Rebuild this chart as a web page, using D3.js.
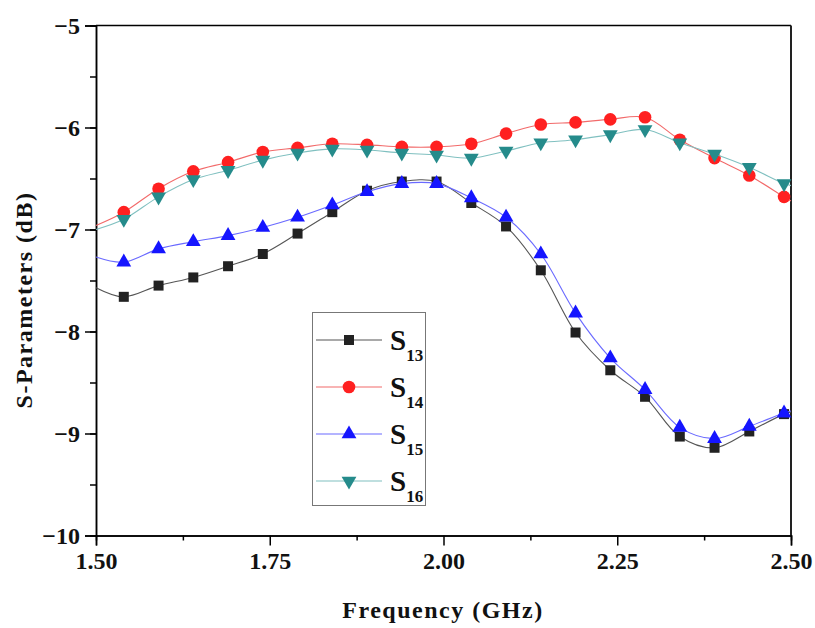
<!DOCTYPE html>
<html>
<head>
<meta charset="utf-8">
<script src="https://cdn.jsdelivr.net/npm/d3@7/dist/d3.min.js"></script>
<style>
  html, body { margin: 0; padding: 0; background: #fff; }
  svg { display: block; }
  text { font-family: "Liberation Serif", "Times New Roman", serif; font-weight: bold; }
</style>
</head>
<body>
<svg id="chart" width="815" height="628"></svg>
<script>
// ---- data ----
// first and last entries are the curve endpoints (no marker)
const freq = [1.50, 1.54, 1.59, 1.64, 1.69, 1.74, 1.79, 1.84, 1.89, 1.94, 1.99,
              2.04, 2.09, 2.14, 2.19, 2.24, 2.29, 2.34, 2.39, 2.44, 2.49, 2.50];
const s13 = [-7.57, -7.66, -7.55, -7.47, -7.36, -7.24, -7.04, -6.83, -6.62, -6.53, -6.53,
             -6.74, -6.97, -7.40, -8.01, -8.38, -8.64, -9.03, -9.14, -8.98, -8.81, -8.79];
const s14 = [-6.96, -6.83, -6.60, -6.43, -6.34, -6.24, -6.20, -6.16, -6.17, -6.19, -6.19,
             -6.16, -6.06, -5.97, -5.95, -5.92, -5.90, -6.12, -6.30, -6.47, -6.68, -6.72];
const s15 = [-7.27, -7.32, -7.19, -7.12, -7.06, -6.98, -6.88, -6.76, -6.63, -6.55, -6.55,
             -6.69, -6.88, -7.24, -7.82, -8.26, -8.57, -8.94, -9.05, -8.93, -8.80, -8.78];
const s16 = [-7.00, -6.90, -6.68, -6.51, -6.42, -6.32, -6.25, -6.21, -6.22, -6.25, -6.27,
             -6.30, -6.23, -6.15, -6.12, -6.07, -6.02, -6.15, -6.26, -6.39, -6.55, -6.57];
const seriesNames = ["13", "14", "15", "16"];
const xTicks = [1.50, 1.75, 2.00, 2.25, 2.50];
const yTicks = [-5, -6, -7, -8, -9, -10];

// ---- layout ----
const svg = d3.select("#chart");
const L = 96, R = 791, T = 25.5, B = 535.5;
const x = d3.scaleLinear().domain([1.5, 2.5]).range([L, R]);
const y = d3.scaleLinear().domain([-10, -5]).range([B, T]);

const styles = [
  { line: "#555555", fill: "#222222", sym: d3.symbolSquare, size: 100, rot: 0 },
  { line: "#f26a6a", fill: "#ff2020", sym: d3.symbolCircle, size: 125, rot: 0 },
  { line: "#6a6aff", fill: "#1515ff", sym: d3.symbolTriangle, size: 95, rot: 0 },
  { line: "#80c0c0", fill: "#258b8b", sym: d3.symbolTriangle, size: 95, rot: 180 }
];
const allSeries = [s13, s14, s15, s16];

// frame
svg.append("line").attr("x1", L).attr("x2", R).attr("y1", T).attr("y2", T)
  .attr("stroke", "#000").attr("stroke-width", 1.5);
svg.append("line").attr("x1", R).attr("x2", R).attr("y1", T).attr("y2", B)
  .attr("stroke", "#222").attr("stroke-width", 2);

// axes
const xAxis = d3.axisBottom(x).tickValues(xTicks).tickFormat(d3.format(".2f"))
  .tickSize(10).tickPadding(6);
const xMinor = d3.axisBottom(x).tickValues(d3.range(1.625, 2.5, 0.25)).tickFormat("").tickSize(5);
const yAxis = d3.axisLeft(y).tickValues(yTicks).tickFormat(d3.format("d"))
  .tickSize(11).tickPadding(5);
const yMinor = d3.axisLeft(y).tickValues(d3.range(-9.5, -5, 0.5)).tickFormat("").tickSize(6);

function styleAxis(g) {
  g.select(".domain").attr("stroke", "#000").attr("stroke-width", 1.5);
  g.selectAll(".tick line").attr("stroke", "#000").attr("stroke-width", 1.5);
  g.selectAll(".tick text").attr("fill", "#111").style("font-size", "24px")
    .style("font-family", "'Liberation Serif', serif").style("font-weight", "bold");
}
svg.append("g").attr("transform", `translate(0,${B})`).call(xMinor).call(styleAxis);
svg.append("g").attr("transform", `translate(0,${B})`).call(xAxis).call(styleAxis);
svg.append("g").attr("transform", `translate(${L},0)`).call(yMinor).call(styleAxis);
svg.append("g").attr("transform", `translate(${L},0)`).call(yAxis).call(styleAxis);

// axis titles
svg.append("text").attr("x", 443).attr("y", 618).attr("text-anchor", "middle")
  .style("font-size", "24px").style("letter-spacing", "1.5px").attr("fill", "#111")
  .text("Frequency (GHz)");
svg.append("text").attr("transform", "translate(32,300) rotate(-90)")
  .attr("text-anchor", "middle")
  .style("font-size", "24px").style("letter-spacing", "1.5px").attr("fill", "#111")
  .text("S-Parameters (dB)");

// series
const line = d3.line().x((d, i) => x(freq[i])).y(d => y(d)).curve(d3.curveCatmullRom.alpha(0.5));
const plot = svg.append("g");
allSeries.forEach((vals, si) => {
  const st = styles[si];
  plot.append("path").attr("d", line(vals)).attr("fill", "none")
    .attr("stroke", st.line).attr("stroke-width", 1.1);
  const pts = vals.map((v, i) => ({ v, i })).filter(d => d.i > 0 && d.i < freq.length - 1);
  plot.selectAll(null).data(pts).enter().append("path")
    .attr("d", d3.symbol().type(st.sym).size(st.size))
    .attr("transform", d => `translate(${x(freq[d.i])},${y(d.v)}) rotate(${st.rot})`)
    .attr("fill", st.fill);
});

// legend
const lg = svg.append("g");
lg.append("rect").attr("x", 312.5).attr("y", 312.5).attr("width", 113).attr("height", 193)
  .attr("fill", "none").attr("stroke", "#777").attr("stroke-width", 1);
seriesNames.forEach((nm, i) => {
  const st = styles[i];
  const cy = 340 + i * 47;
  lg.append("line").attr("x1", 316).attr("x2", 382).attr("y1", cy).attr("y2", cy)
    .attr("stroke", st.line).attr("stroke-width", 1.1);
  lg.append("path").attr("d", d3.symbol().type(st.sym).size(st.size))
    .attr("transform", `translate(349,${cy}) rotate(${st.rot})`).attr("fill", st.fill);
  const t = lg.append("text").attr("x", 390).attr("y", cy + 10).attr("fill", "#111")
    .style("font-size", "29px");
  t.append("tspan").text("S");
  t.append("tspan").attr("dy", 11).style("font-size", "17px").text(nm);
});
</script>
</body>
</html>
